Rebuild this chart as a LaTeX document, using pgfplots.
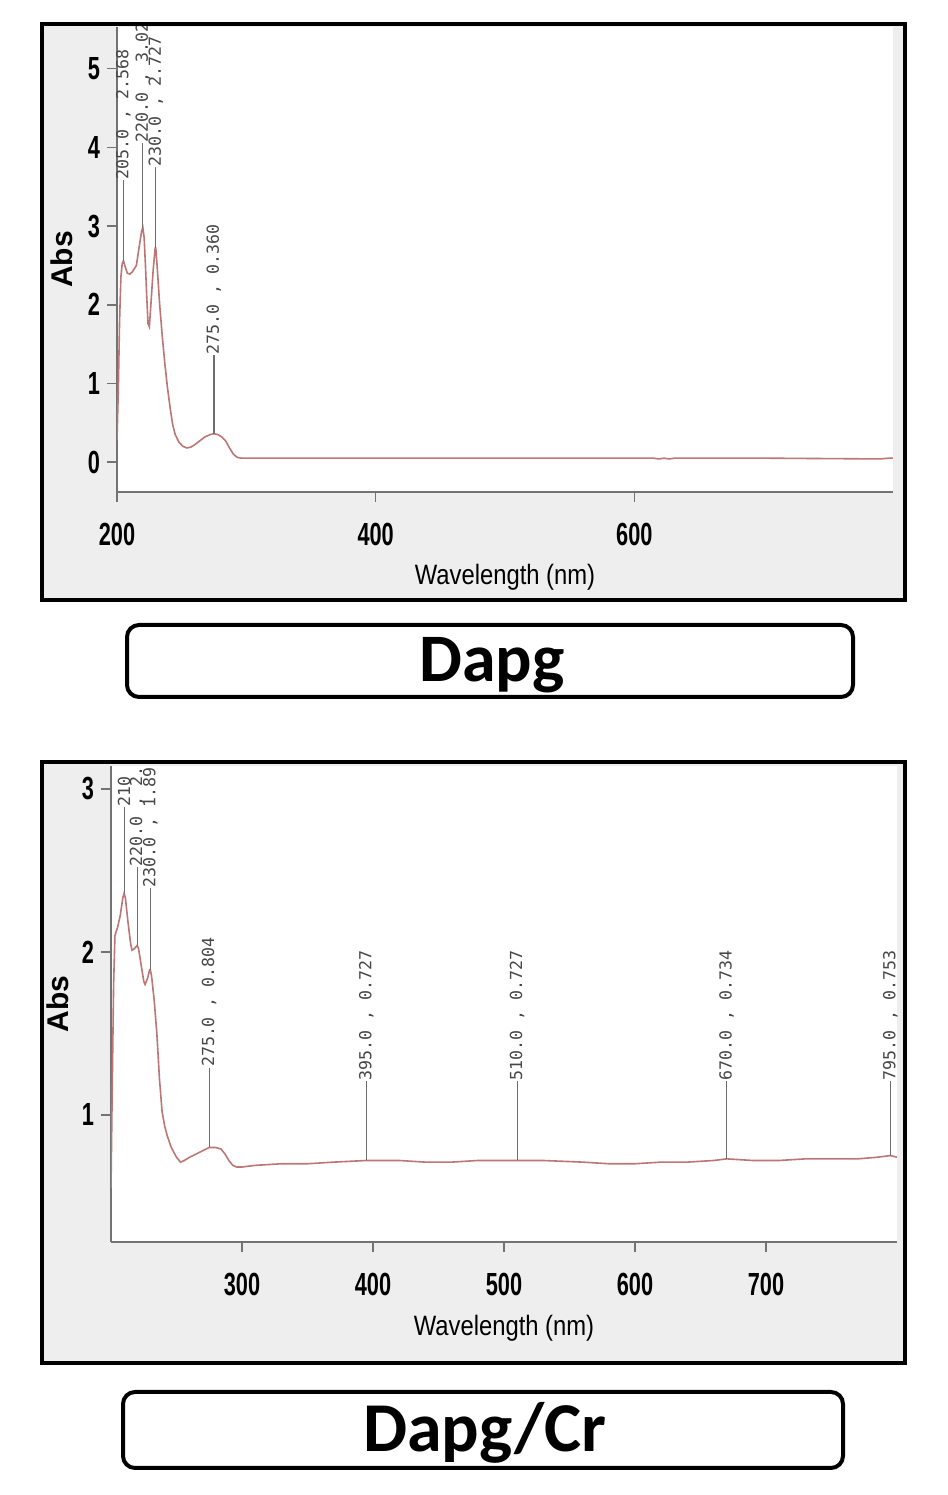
\documentclass[border=0pt]{standalone}
\usepackage{fontspec}
\usepackage{pgfplots}
\pgfplotsset{compat=1.18}
\setmainfont{Liberation Sans}
\newfontfamily\tickfont[FakeStretch=0.68]{Liberation Sans}
\newfontfamily\labfont[FakeStretch=0.85]{Liberation Sans}
\newfontfamily\peakfont{DejaVu Sans Mono}
\newfontfamily\capfont{Carlito}

\definecolor{panelbg}{RGB}{238,238,238}
\definecolor{speccol}{RGB}{188,118,118}
\definecolor{axisgray}{RGB}{115,115,115}
\definecolor{annotcol}{RGB}{110,110,110}

\tikzset{
  plabel/.style={rotate=90, anchor=west, inner sep=0pt, text=black!72,
    font=\peakfont\fontsize{8.3pt}{8.3pt}\selectfont},
}

\pgfplotsset{
  spec/.style={
    anchor=south west, scale only axis,
    xmin=200, xmax=800,
    axis x line*=bottom, axis y line*=left,
    axis line style={axisgray, line width=1pt},
    tick style={axisgray, line width=0.8pt},
    tick align=outside, major tick length=5pt,
    /pgf/number format/assume math mode=true,
    tick label style={font=\tickfont\bfseries\fontsize{16pt}{16pt}\selectfont},
    xticklabel style={yshift=-7pt},
    xlabel={Wavelength (nm)},
    ylabel={Abs},
    xlabel style={font=\labfont\fontsize{14pt}{14pt}\selectfont,
      at={(axis description cs:0.5,0)}, anchor=base, yshift=-46.5pt},
    ylabel style={font=\bfseries\fontsize{15pt}{15pt}\selectfont,
      anchor=center, rotate=0},
    axis background/.style={fill=white},
    clip=true,
  },
  spectrum/.style={color=speccol, line width=0.8pt, no markers},
  peak/.style={color=annotcol, line width=0.6pt, no markers, forget plot},
}

\begin{document}
\begin{tikzpicture}
\useasboundingbox (0pt,0pt) rectangle (474pt,747.5pt);

% panel backgrounds
\fill[panelbg] (21pt,447.5pt) rectangle (452.5pt,735.5pt);
\fill[panelbg] (21pt,66pt) rectangle (452.5pt,366.5pt);

% ---------------- Dapg ----------------
\begin{axis}[spec,
  at={(58.5pt,501.5pt)}, width=388pt, height=232.5pt,
  ymin=-0.38, ymax=5.53,
  xtick={200,400,600}, ytick={0,1,2,3,4,5},
  ylabel style={at={(axis description cs:-0.0709,0.5)}},
]
\addplot[spectrum] coordinates {
 (200,0.28) (201,0.9) (202,1.8) (203,2.35) (204,2.52) (205,2.56)
 (206,2.50) (208,2.40) (210,2.39) (212,2.42) (215,2.50) (217,2.72)
 (219,2.93) (220,2.98) (221,2.85) (222,2.50) (223,2.10) (224,1.76)
 (225,1.72) (226,1.95) (228,2.45) (229.5,2.72) (230,2.72) (231,2.50)
 (233,2.00) (235,1.60) (237,1.25) (239,0.95) (241,0.70) (243,0.48)
 (245,0.35) (248,0.25) (251,0.20) (254,0.18) (257,0.19) (260,0.22)
 (264,0.27) (268,0.32) (272,0.35) (275,0.36) (278,0.35) (281,0.32)
 (284,0.27) (287,0.18) (290,0.10) (293,0.06) (296,0.05) (300,0.05)
 (400,0.05) (500,0.05) (600,0.05) (615,0.05) (619,0.04) (623,0.05)
 (627,0.04) (631,0.05) (700,0.05) (790,0.04) (797,0.05) (800,0.05)
};
\addplot[peak] coordinates {(205,2.56) (205,3.59)} node[plabel, pos=1] {205.0 , 2.568};
\addplot[peak] coordinates {(220,2.98) (220,4.06)} node[plabel, pos=1] {220.0 , 3.02};
\addplot[peak] coordinates {(230,2.72) (230,3.75)} node[plabel, pos=1] {230.0 , 2.727};
\addplot[peak] coordinates {(275,0.36) (275,1.36)} node[plabel, pos=1] {275.0 , 0.360};
\end{axis}

% ---------------- Dapg/Cr ----------------
\begin{axis}[spec,
  at={(55.5pt,126.5pt)}, width=393pt, height=238pt,
  ymin=0.22, ymax=3.14,
  xtick={300,400,500,600,700}, ytick={1,2,3},
  ylabel style={at={(axis description cs:-0.0674,0.5)}},
]
\addplot[spectrum] coordinates {
 (200,0.55) (201,1.2) (202,1.8) (203,2.10) (205,2.15) (207,2.22)
 (209,2.33) (210,2.36) (211,2.33) (213,2.18) (215,2.05) (216,2.01)
 (218,2.02) (220,2.04) (221,2.02) (223,1.92) (225,1.82) (226,1.80)
 (228,1.84) (229.5,1.89) (230,1.89) (231,1.85) (233,1.70) (235,1.50)
 (237,1.22) (239,1.02) (241,0.93) (243,0.87) (246,0.80) (250,0.74)
 (253,0.71) (256,0.72) (260,0.74) (265,0.76) (270,0.78) (275,0.80)
 (280,0.80) (284,0.79) (287,0.76) (290,0.72) (293,0.69) (296,0.68)
 (300,0.68) (310,0.69) (330,0.70) (350,0.70) (370,0.71) (395,0.72)
 (420,0.72) (440,0.71) (460,0.71) (480,0.72) (500,0.72) (510,0.72)
 (530,0.72) (560,0.71) (580,0.70) (600,0.70) (620,0.71) (640,0.71)
 (660,0.72) (670,0.73) (690,0.72) (710,0.72) (730,0.73) (750,0.73)
 (770,0.73) (785,0.74) (795,0.75) (800,0.74)
};
\addplot[peak] coordinates {(210,2.36) (210,2.89)} node[plabel, pos=1] {210};
\addplot[peak] coordinates {(220,2.04) (220,2.52)} node[plabel, pos=1] {220.0 , 2.0};
\addplot[peak] coordinates {(230,1.89) (230,2.39)} node[plabel, pos=1] {230.0 , 1.89};
\addplot[peak] coordinates {(275,0.80) (275,1.29)} node[plabel, pos=1] {275.0 , 0.804};
\addplot[peak] coordinates {(395,0.72) (395,1.21)} node[plabel, pos=1] {395.0 , 0.727};
\addplot[peak] coordinates {(510,0.72) (510,1.21)} node[plabel, pos=1] {510.0 , 0.727};
\addplot[peak] coordinates {(670,0.73) (670,1.21)} node[plabel, pos=1] {670.0 , 0.734};
\addplot[peak] coordinates {(795,0.75) (795,1.21)} node[plabel, pos=1] {795.0 , 0.753};
\end{axis}

% frames on top
\draw[black, line width=2pt] (21pt,447.5pt) rectangle (452.5pt,735.5pt);
\draw[black, line width=2pt] (21pt,66pt) rectangle (452.5pt,366.5pt);

% captions
\draw[black, line width=2pt, rounded corners=6pt] (63.5pt,399pt) rectangle (426.5pt,435pt);
\node[anchor=base, inner sep=0pt, font=\capfont\bfseries\fontsize{34pt}{34pt}\selectfont] at (246pt,406.5pt) {Dapg};
\draw[black, line width=2pt, rounded corners=6pt] (61.5pt,13.5pt) rectangle (421.5pt,51.5pt);
\node[anchor=base, inner sep=0pt, font=\capfont\bfseries\fontsize{35pt}{35pt}\selectfont] at (242.5pt,21.5pt) {Dapg/Cr};
\end{tikzpicture}
\end{document}
